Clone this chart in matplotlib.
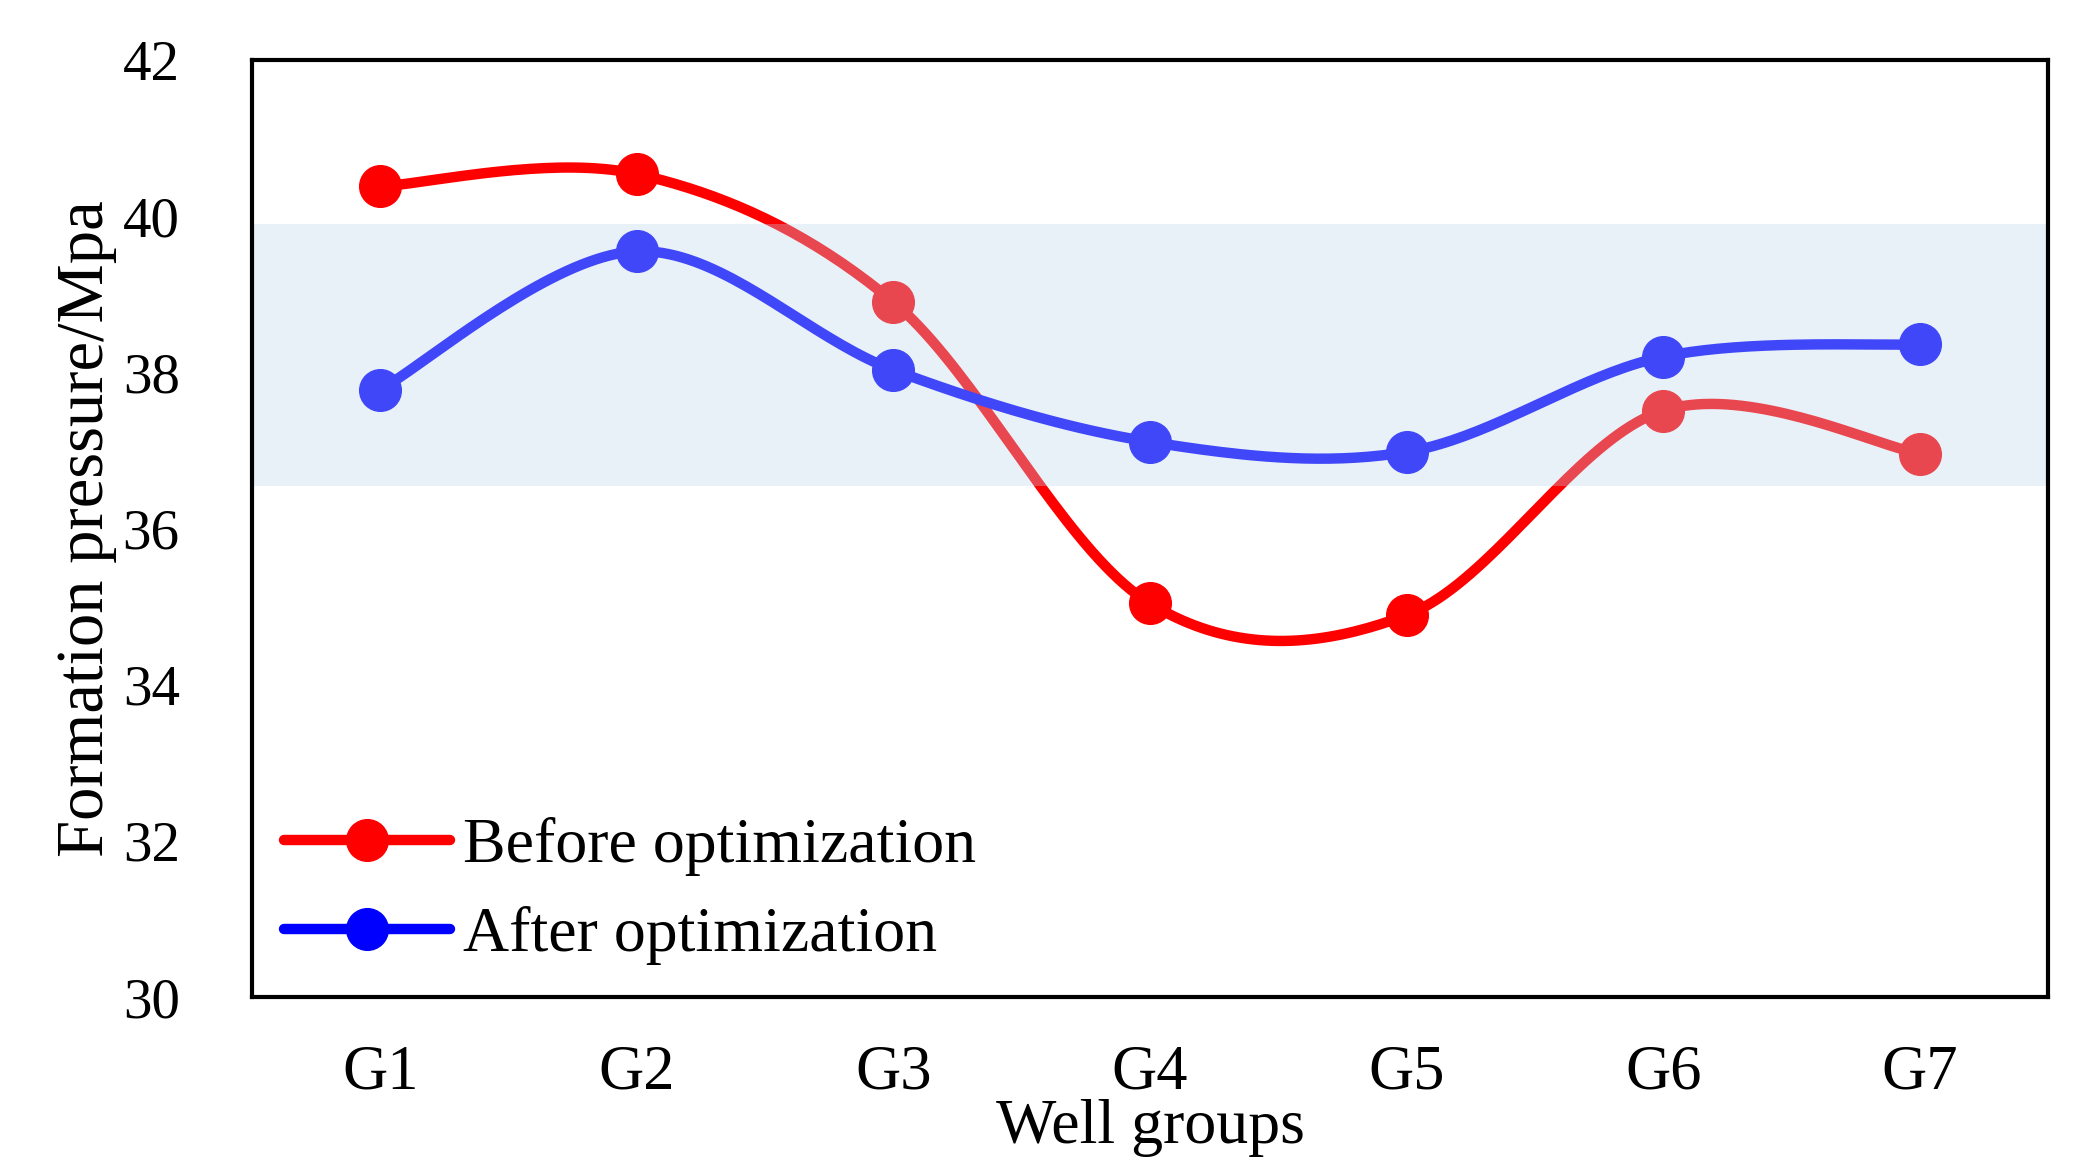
import numpy as np
import matplotlib as mpl

mpl.use('agg')

import matplotlib.pyplot as plt

plt.rcParams['font.family'] = ['Liberation Serif', 'DejaVu Serif']

groups = ['G1', 'G2', 'G3', 'G4', 'G5', 'G6', 'G7']
before = [40.38, 40.54, 38.90, 35.04, 34.89, 37.51, 36.96]
after = [37.78, 39.55, 38.03, 37.11, 36.98, 38.20, 38.36]
band = [36.55, 39.9]


def smooth(x, y, n=40):
    # excel-like smoothed line (catmull-rom as cubic bezier)
    p = np.column_stack([x, y]).astype(float)
    p = np.vstack([p[0], p, p[-1]])
    out = []
    t = np.linspace(0, 1, n, endpoint=False)[:, None]
    for i in range(1, len(p) - 2):
        p0, p3 = p[i], p[i + 1]
        c1 = p0 + (p[i + 1] - p[i - 1]) / 6
        c2 = p3 - (p[i + 2] - p[i]) / 6
        seg = ((1 - t) ** 3) * p0 + 3 * ((1 - t) ** 2) * t * c1 + 3 * (1 - t) * t ** 2 * c2 + t ** 3 * p3
        out.append(seg)
    out.append(p[-2][None, :])
    out = np.vstack(out)
    return out[:, 0], out[:, 1], list(range(0, len(out), n))


xs = np.arange(1, len(groups) + 1)

fig = plt.figure(figsize=(20.73, 11.71), dpi=100)
ax = fig.add_axes([252 / 2073, 1 - 997 / 1171, (2048 - 252) / 2073, (997 - 60) / 1171])

for vals, col, lab in [(before, '#FF0000', 'Before optimization'),
                       (after, '#0000FF', 'After optimization')]:
    sx, sy, idx = smooth(xs, vals)
    ax.plot(sx, sy, color=col, lw=7.5, marker='o', markersize=30,
            markevery=idx, label=lab, zorder=3, solid_capstyle='round')

ax.axhspan(band[0], band[1], color='#BCD3EB', alpha=0.34, lw=0, zorder=4)

ax.set_xlim(0.5, 7.5)
ax.set_ylim(30, 42)
ax.set_yticks([30, 32, 34, 36, 38, 40, 42])
ax.set_xticks(xs)
ax.set_xticklabels(groups)
ax.tick_params(length=0)
ax.tick_params(axis='y', pad=52, labelsize=41)
ax.tick_params(axis='x', pad=34, labelsize=45)
for s in ax.spines.values():
    s.set_linewidth(3)
    s.set_zorder(6)

ax.set_xlabel('Well groups', fontsize=46, labelpad=-2)
ax.set_ylabel('Formation pressure/Mpa', fontsize=48, labelpad=4)

ax.legend(loc='lower left', frameon=False, fontsize=46, handlelength=2.6,
          handletextpad=0.2, borderaxespad=0.2, labelspacing=0.47,
          borderpad=0.3)

fig.savefig('out.png')
